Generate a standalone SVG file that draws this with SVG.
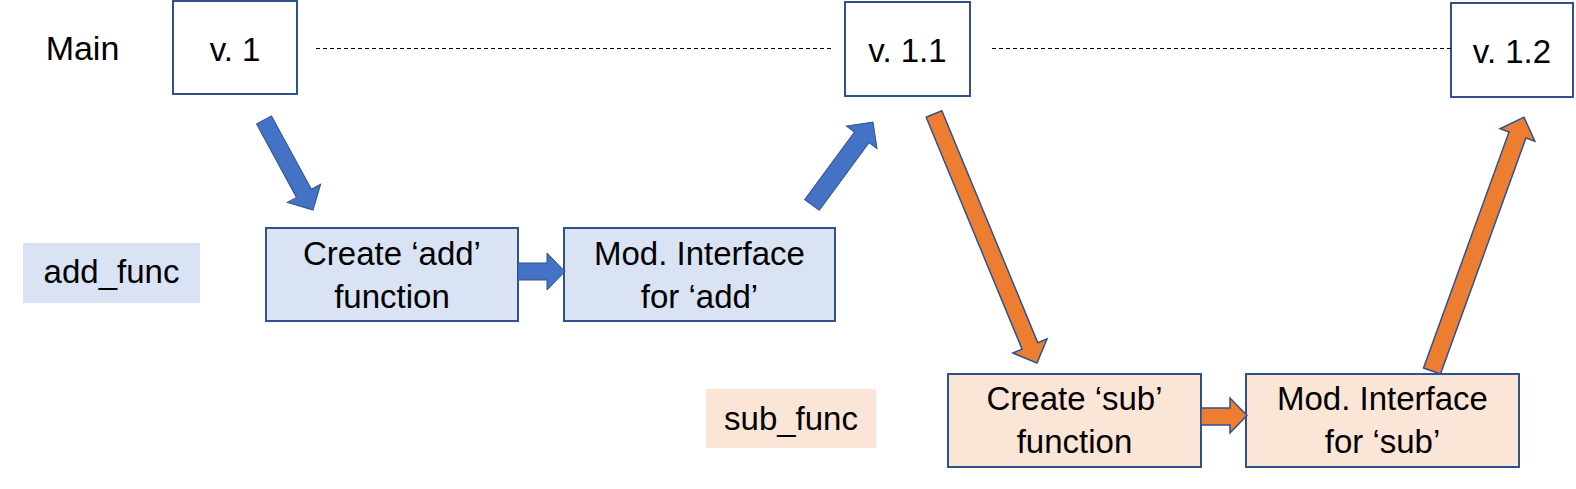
<svg xmlns="http://www.w3.org/2000/svg" width="1576" height="489" viewBox="0 0 1576 489">
<style>
  .t { font-family: "Liberation Sans", Arial, sans-serif; font-size: 33px; fill: #000; text-anchor: middle; }
  .box { stroke: #2F528F; stroke-width: 2; }
  .ver { fill: #FFFFFF; }
  .blue { fill: #DAE3F3; }
  .orange { fill: #FBE5D6; }
  .dash { stroke: #000; stroke-width: 1; stroke-dasharray: 4 3; fill: none; }
  .ab { fill: #4472C4; stroke: #2F528F; stroke-width: 1; }
  .ao { fill: #ED7D31; stroke: #2F528F; stroke-width: 1.5; }
</style>
<rect width="1576" height="489" fill="#FFFFFF"/>

<g id="label-main"><text class="t" x="82.5" y="60" style="font-size:34px">Main</text></g>

<g id="v1"><rect class="box ver" x="173" y="1" width="124" height="93"/><text class="t" x="235" y="61">v. 1</text></g>
<g id="v11"><rect class="box ver" x="845" y="2" width="125" height="94"/><text class="t" x="907.5" y="62">v. 1.1</text></g>
<g id="v12"><rect class="box ver" x="1451" y="3" width="122" height="94"/><text class="t" x="1512" y="63">v. 1.2</text></g>

<g id="label-add"><rect class="blue" x="23" y="243" width="177" height="60"/><text class="t" x="111.5" y="283">add_func</text></g>
<g id="create-add"><rect class="box blue" x="266" y="228" width="252" height="93"/><text class="t" x="392" y="265">Create ‘add’</text><text class="t" x="392" y="308">function</text></g>
<g id="mod-add"><rect class="box blue" x="564" y="228" width="271" height="93"/><text class="t" x="699.5" y="265">Mod. Interface</text><text class="t" x="699.5" y="308">for ‘add’</text></g>

<g id="label-sub"><rect class="orange" x="706" y="389" width="170" height="59"/><text class="t" x="791" y="430">sub_func</text></g>
<g id="create-sub"><rect class="box orange" x="948" y="374" width="253" height="93"/><text class="t" x="1074.5" y="410">Create ‘sub’</text><text class="t" x="1074.5" y="453">function</text></g>
<g id="mod-sub"><rect class="box orange" x="1246" y="374" width="273" height="93"/><text class="t" x="1382.5" y="410">Mod. Interface</text><text class="t" x="1382.5" y="453">for ‘sub’</text></g>

<g id="connectors">
  <line class="dash" x1="316" y1="48.5" x2="832" y2="48.5"/>
  <line class="dash" x1="992" y1="48.5" x2="1451" y2="48.5"/>
  <polygon class="ab" transform="translate(264 120) rotate(61.43)" points="0,-8.5 83.5,-8.5 83.5,-19 102.5,0 83.5,19 83.5,8.5 0,8.5"/>
  <polygon class="ab" transform="translate(812 205) rotate(-53.69)" points="0,-9 84,-9 84,-19 103,0 84,19 84,9 0,9"/>
  <polygon class="ao" transform="translate(934 114) rotate(67.53)" points="0,-8.5 251,-8.5 251,-18.5 269.5,0 251,18.5 251,8.5 0,8.5"/>
  <polygon class="ao" transform="translate(1432 371) rotate(-70.09)" points="0,-9 251,-9 251,-18.5 270,0 251,18.5 251,9 0,9"/>
  <polygon class="ab" points="518,263 547,263 547,253 565,271.5 547,290 547,280 518,280"/>
  <polygon class="ao" points="1201,408 1230,408 1230,398 1247,415.5 1230,433 1230,425 1201,425"/>
</g>
</svg>
